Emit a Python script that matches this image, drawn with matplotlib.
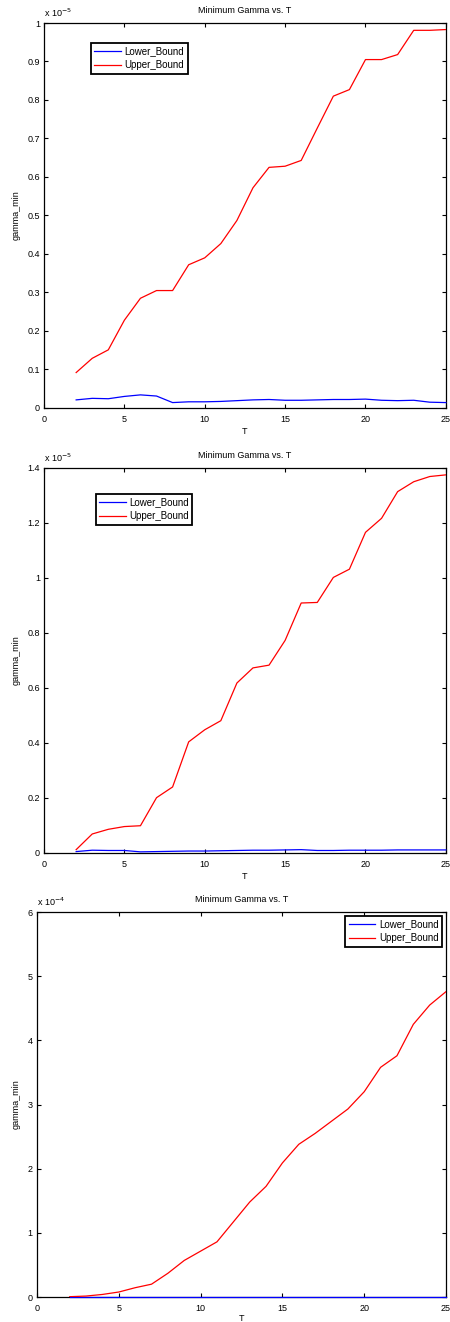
import matplotlib
matplotlib.use("Agg")
import matplotlib.pyplot as plt

plt.rcParams['font.family'] = ['Liberation Sans', 'DejaVu Sans']

T = list(range(2, 26))

# panel 1, units of 1e-5
lower1 = [0.021, 0.025, 0.024, 0.030, 0.034, 0.031, 0.014, 0.016, 0.016, 0.017, 0.019, 0.021,
          0.022, 0.020, 0.020, 0.021, 0.022, 0.022, 0.023, 0.020, 0.019, 0.020, 0.015, 0.014]
upper1 = [0.092, 0.129, 0.151, 0.228, 0.285, 0.305, 0.305, 0.372, 0.390, 0.427, 0.487, 0.572,
          0.625, 0.628, 0.643, 0.727, 0.810, 0.827, 0.905, 0.905, 0.918, 0.981, 0.981, 0.983]

# panel 2, units of 1e-5
lower2 = [0.005, 0.010, 0.009, 0.009, 0.004, 0.005, 0.006, 0.007, 0.007, 0.008, 0.009, 0.010,
          0.010, 0.011, 0.012, 0.009, 0.009, 0.010, 0.010, 0.010, 0.011, 0.011, 0.011, 0.011]
upper2 = [0.012, 0.069, 0.086, 0.096, 0.099, 0.201, 0.240, 0.404, 0.448, 0.481, 0.618, 0.673,
          0.683, 0.773, 0.909, 0.911, 1.002, 1.032, 1.166, 1.217, 1.314, 1.350, 1.369, 1.375]

# panel 3, units of 1e-4
lower3 = [0.0] * 24
upper3 = [0.005, 0.015, 0.040, 0.078, 0.145, 0.200, 0.370, 0.570, 0.715, 0.860, 1.170, 1.480,
          1.725, 2.090, 2.380, 2.550, 2.740, 2.930, 3.200, 3.580, 3.760, 4.250, 4.550, 4.760]

panels = [
    dict(lower=lower1, upper=upper1, ylim=(0, 1), yticks=[0, .1, .2, .3, .4, .5, .6, .7, .8, .9, 1],
         exp='-5', rect=[0.0978, 0.6914, 0.893, 0.2912], loc=(0.117, 0.948)),
    dict(lower=lower2, upper=upper2, ylim=(0, 1.4), yticks=[0, .2, .4, .6, .8, 1, 1.2, 1.4],
         exp='-5', rect=[0.0978, 0.3548, 0.893, 0.2912], loc=(0.129, 0.932)),
    dict(lower=lower3, upper=upper3, ylim=(0, 6), yticks=[0, 1, 2, 3, 4, 5, 6],
         exp='-4', rect=[0.0822, 0.0189, 0.909, 0.2912], loc=(0.99, 0.99)),
]

fig = plt.figure(figsize=(4.5, 13.22), dpi=100)

for i, p in enumerate(panels):
    ax = fig.add_axes(p['rect'])
    ax.plot(T, p['lower'], color='#0000ff', lw=0.9, label='Lower_Bound', zorder=3, clip_on=False)
    ax.plot(T, p['upper'], color='#ff0000', lw=0.9, label='Upper_Bound', zorder=3)
    ax.set_xlim(0, 25)
    ax.set_ylim(*p['ylim'])
    ax.set_xticks([0, 5, 10, 15, 20, 25])
    ax.set_yticks(p['yticks'])
    ax.set_yticklabels(['%g' % v for v in p['yticks']])
    ax.tick_params(direction='in', top=True, right=True, length=3, width=0.8,
                   labelsize=6.5, pad=3)
    ax.tick_params(axis='x', pad=5)
    for s in ax.spines.values():
        s.set_linewidth(0.9)
    ax.set_title('Minimum Gamma vs. T', fontsize=6.5, pad=7)
    ax.set_xlabel('T', fontsize=6.5, labelpad=2 if i < 2 else 0.5)
    ax.set_ylabel('gamma_min', fontsize=6.5, labelpad=5)
    ax.text(0, 1.01, 'x 10$^{%s}$' % p['exp'], transform=ax.transAxes,
            fontsize=6.5, ha='left', va='bottom')
    anchor = 'upper right' if i == 2 else 'upper left'
    leg = ax.legend(loc=anchor, bbox_to_anchor=p['loc'], fontsize=7, fancybox=False,
                    edgecolor='black', framealpha=1, handlelength=2.7, borderpad=0.35,
                    labelspacing=0.4, handletextpad=0.4, borderaxespad=0)
    leg.get_frame().set_linewidth(1.3)

fig.savefig('out.png', dpi=100)
